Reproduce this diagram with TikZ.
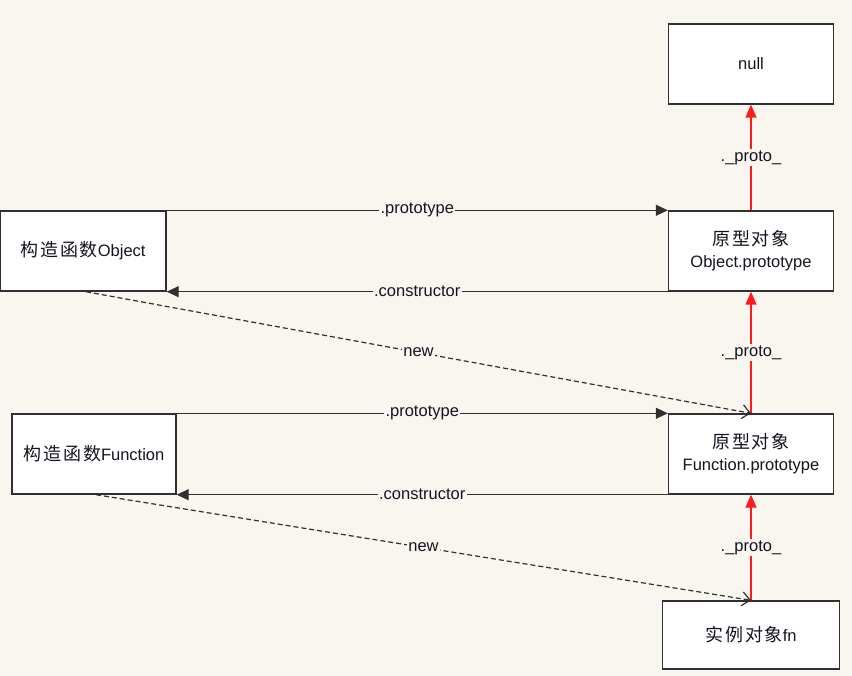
\documentclass[tikz,border=0pt]{standalone}
\usepackage{fontspec}
\setmainfont{Liberation Sans}
\newfontfamily\cjk[LetterSpace=10]{Noto Sans CJK SC}
\usetikzlibrary{arrows.meta}
\definecolor{bg}{HTML}{F9F6F0}
\definecolor{redline}{HTML}{FF1A1A}
\definecolor{edge}{HTML}{303030}
\definecolor{txt}{HTML}{141420}
\begin{document}
\begin{tikzpicture}[x=1pt,y=-1pt,
  box/.style={draw=edge, line width=1.4pt, fill=white, inner sep=0pt, text=txt,
    font=\fontsize{16.5}{22}\selectfont, align=center},
  lbl/.style={fill=bg, inner sep=1.2pt, text=txt, font=\fontsize{16.5}{18}\selectfont},
  blk/.style={draw=edge, line width=1.3pt, -{Triangle[length=12pt,width=11pt]}},
  rd/.style={draw=redline, line width=1.4pt, -{Triangle[length=13pt,width=11pt]}},
  dsh/.style={draw=edge, line width=1.2pt, dash pattern=on 5pt off 3pt, -{Straight Barb[length=8pt,width=14pt]}}
]
\fill[bg] (0,0) rectangle (852,676);
\useasboundingbox (0,0) rectangle (852,676);

\node[box, minimum width=165pt, minimum height=80pt] (null) at (751,64) {null};
\node[box, minimum width=166pt, minimum height=80pt] (ocons) at (83,251) {{\cjk\fontsize{18}{22}\selectfont 构造函数}Object};
\node[box, minimum width=165pt, minimum height=80pt] (oproto) at (751,251) {{\cjk\fontsize{18}{22}\selectfont 原型对象}\\Object.prototype};
\node[box, minimum width=164pt, minimum height=80pt] (fcons) at (94,454) {{\cjk\fontsize{18}{22}\selectfont 构造函数}Function};
\node[box, minimum width=165pt, minimum height=80pt] (fproto) at (751,454) {{\cjk\fontsize{18}{22}\selectfont 原型对象}\\Function.prototype};
\node[box, minimum width=177pt, minimum height=68pt] (fn) at (751,635) {{\cjk\fontsize{18}{22}\selectfont 实例对象}fn};

% prototype / constructor
\draw[blk] (ocons.north east) -- node[lbl, pos=0.5] {.prototype} (oproto.north west);
\draw[blk] (oproto.south west) -- node[lbl, pos=0.5] {.constructor} (ocons.south east);
\draw[blk] (fcons.north east) -- node[lbl, pos=0.5] {.prototype} (fproto.north west);
\draw[blk] (fproto.south west) -- node[lbl, pos=0.5] {.constructor} (fcons.south east);

% proto chain
\draw[rd] (oproto.north) -- node[lbl, pos=0.5] {.\_proto\_} (null.south);
\draw[rd] (fproto.north) -- node[lbl, pos=0.5] {.\_proto\_} (oproto.south);
\draw[rd] (fn.north) -- node[lbl, pos=0.5] {.\_proto\_} (fproto.south);

% new
\draw[dsh] ([xshift=3pt]ocons.south) -- node[lbl, pos=0.5] {new} (fproto.north);
\draw[dsh] ([xshift=2pt]fcons.south) -- node[lbl, pos=0.5] {new} (fn.north);
\end{tikzpicture}
\end{document}
